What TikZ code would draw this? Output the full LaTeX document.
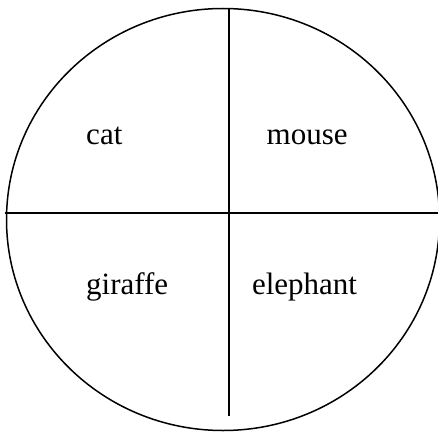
\documentclass[tikz,border=0pt]{standalone}
\usepackage{fontspec}
\setmainfont{Liberation Serif}
\begin{document}
\begin{tikzpicture}[x=1pt,y=-1pt,
  outline/.style={draw=black,line width=1.5pt},
  divider/.style={draw=black,line width=1.6pt},
  label/.style={font=\fontsize{31}{36}\selectfont,anchor=base,inner sep=0pt}]
\useasboundingbox (0,0) rectangle (438,433);
\draw[outline] (223,219.5) ellipse [x radius=216.5, y radius=211];
\coordinate (vtop) at (229,9);
\coordinate (vbot) at (229,415.5);
\coordinate (hleft) at (4.5,213);
\coordinate (hright) at (440,213);
\draw[divider] (vtop) -- (vbot);
\draw[divider] (hleft) -- (hright);
\node[label] (cat) at (104.3,144) {cat};
\node[label] (mouse) at (307.2,144.5) {mouse};
\node[label] (giraffe) at (127.2,294) {giraffe};
\node[label] (elephant) at (304.5,294) {elephant};
\end{tikzpicture}
\end{document}
